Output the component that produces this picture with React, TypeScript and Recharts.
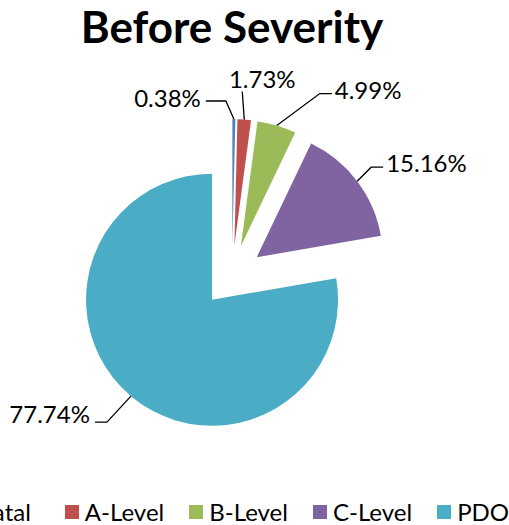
import React from 'react';
import { PieChart, Pie, Cell, Sector, Legend } from 'recharts';

const categories = ['Fatal', 'A-Level', 'B-Level', 'C-Level', 'PDO'];
const shares = [0.38, 1.73, 4.99, 15.16, 77.74];
const colors = ['#4F81BD', '#C0504D', '#9BBB59', '#8064A2', '#4BACC6'];

const data = categories.map((name, i) => ({ name, value: shares[i] }));

const RADIAN = Math.PI / 180;
const EXPLODE = 31;
const FONT = 'Lato, "Open Sans", sans-serif';

// leader line: elbow offset from the slice edge, horizontal tail, then text nudge
const labelLayout = [
  { ex: -8, ey: -18, tail: -20, tx: -5, ty: -4, anchor: 'end' },
  { ex: -2, ey: -28, tail: 0, tx: 20, ty: -13, anchor: 'middle' },
  { ex: 43, ey: -32, tail: 12, tx: 3, ty: -4, anchor: 'start' },
  { ex: 14, ey: -14, tail: 12, tx: 3, ty: -5, anchor: 'start' },
  { ex: -24, ey: 26, tail: -12, tx: -5, ty: -9, anchor: 'end' },
];

const dir = (midAngle: number) => ({
  x: Math.cos(-midAngle * RADIAN),
  y: Math.sin(-midAngle * RADIAN),
});

const ExplodedSector = (props: any) => {
  const d = dir(props.midAngle);
  return <Sector {...props} cx={props.cx + d.x * EXPLODE} cy={props.cy + d.y * EXPLODE} />;
};

const renderLabel = (props: any) => {
  const { cx, cy, midAngle, outerRadius, index } = props;
  const d = dir(midAngle);
  const sx = cx + d.x * (EXPLODE + outerRadius);
  const sy = cy + d.y * (EXPLODE + outerRadius);
  const l = labelLayout[index];
  const mx = sx + l.ex;
  const my = sy + l.ey;
  const ex = mx + l.tail;
  return (
    <g>
      <polyline
        points={`${sx},${sy} ${mx},${my} ${ex},${my}`}
        fill="none"
        stroke="#000"
        strokeWidth={1.3}
      />
      <text
        x={ex + l.tx}
        y={my + l.ty}
        textAnchor={l.anchor}
        dominantBaseline="central"
        fontFamily={FONT}
        fontSize={24}
        fill="#000"
      >
        {shares[index].toFixed(2)}%
      </text>
    </g>
  );
};

const renderLegend = () => (
  <div style={{ display: 'flex', whiteSpace: 'nowrap', fontFamily: FONT, fontSize: 24, color: '#000' }}>
    {categories.map((name, i) => (
      <div key={name} style={{ display: 'flex', alignItems: 'center', marginRight: i === 0 ? 34 : 25 }}>
        <span style={{ width: 14, height: 14, background: colors[i], marginRight: 6 }} />
        <span>{name}</span>
      </div>
    ))}
  </div>
);

export default function App() {
  return (
    <div style={{ position: 'absolute', left: 0, top: 0, width: 509, height: 525, background: '#fff', overflow: 'hidden' }}>
      <div
        style={{
          position: 'absolute',
          left: 0,
          top: 0,
          width: 464,
          textAlign: 'center',
          fontFamily: FONT,
          fontWeight: 700,
          fontSize: 44,
          color: '#000',
        }}
      >
        Before Severity
      </div>
      <PieChart width={509} height={525} margin={{ top: 0, right: 0, bottom: 0, left: 0 }}>
        <Pie
          data={data}
          dataKey="value"
          nameKey="name"
          cx={232}
          cy={276}
          outerRadius={126}
          startAngle={90}
          endAngle={-270}
          stroke="none"
          shape={ExplodedSector}
          label={renderLabel}
          labelLine={false}
          isAnimationActive={false}
        >
          {data.map((entry, i) => (
            <Cell key={entry.name} fill={colors[i]} />
          ))}
        </Pie>
        <Legend
          verticalAlign="bottom"
          content={renderLegend}
          wrapperStyle={{ left: -39, top: 497, width: 620, bottom: 'auto' }}
        />
      </PieChart>
    </div>
  );
}
